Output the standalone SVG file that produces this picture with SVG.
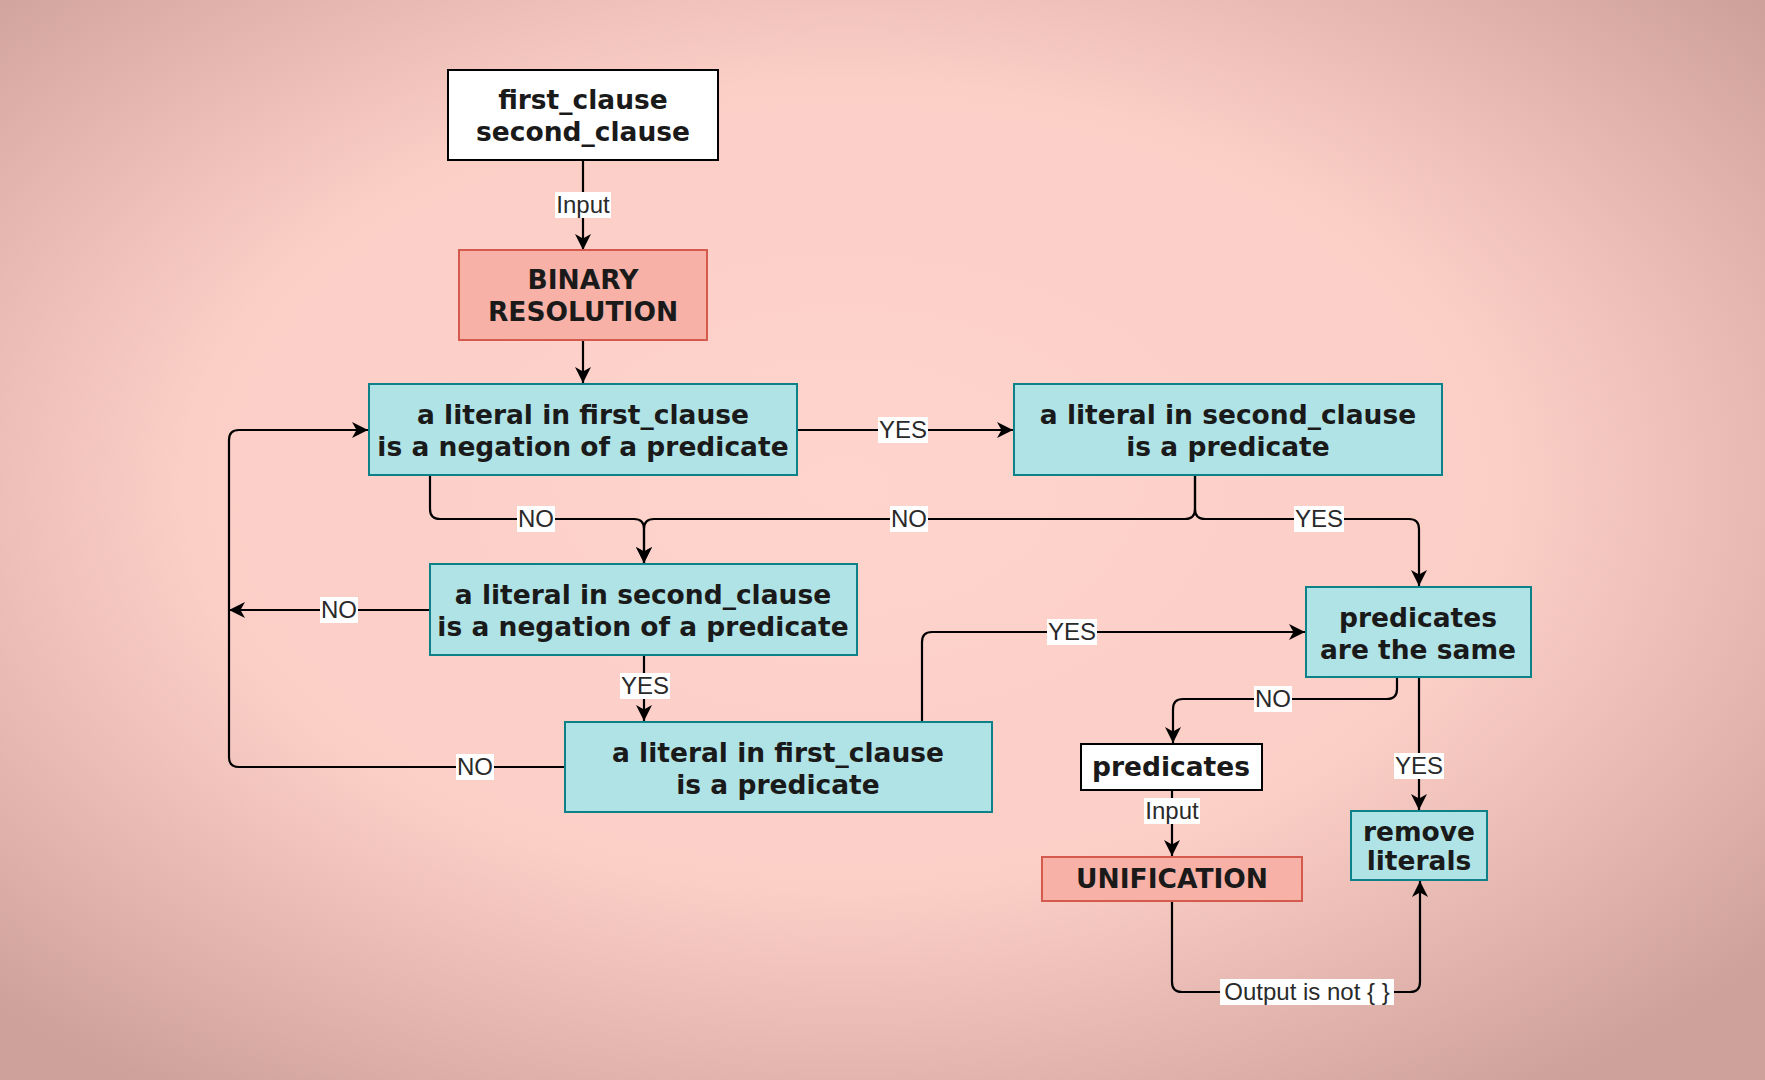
<svg xmlns="http://www.w3.org/2000/svg" width="1765" height="1080" viewBox="0 0 1765 1080">
<defs>
<radialGradient id="bg" cx="48%" cy="45%" r="68%">
<stop offset="0" stop-color="#fed4cc"/>
<stop offset="0.55" stop-color="#fbcec6"/>
<stop offset="1" stop-color="#cfa19b"/>
</radialGradient>
<marker id="arr" markerUnits="userSpaceOnUse" markerWidth="18" markerHeight="18" refX="16" refY="8" orient="auto">
<path d="M0,0 L16,8 L0,16 L4.5,8 Z" fill="#000"/>
</marker>
<style>
.cy{fill:#b0e3e6;stroke:#0e8088;stroke-width:2}
.rd{fill:#f7b1a6;stroke:#d35a4c;stroke-width:2}
.wh{fill:#ffffff;stroke:#000;stroke-width:2}
.nt{font-family:"DejaVu Sans",Verdana,sans-serif;font-weight:bold;font-size:26.5px;fill:#1a1a1a;text-anchor:middle}
.c{fill:none;stroke:#000;stroke-width:2.2;marker-end:url(#arr)}
.lb{fill:#fff}
.lt{font-family:"Liberation Sans",Arial,sans-serif;font-size:24px;fill:#2a2a2a;text-anchor:middle}
</style>
</defs>
<rect x="0" y="0" width="1765" height="1080" fill="url(#bg)"/>

<g id="connectors">
<path class="c" d="M583,160 V250"/>
<path class="c" d="M583,340 V383"/>
<path class="c" d="M797,430 H1013"/>
<path class="c" d="M430,475 V509 Q430,519 440,519 H634 Q644,519 644,529 V563"/>
<path class="c" d="M1195,475 V509 Q1195,519 1185,519 H654 Q644,519 644,529 V563"/>
<path class="c" d="M1195,475 V509 Q1195,519 1205,519 H1409 Q1419,519 1419,529 V586"/>
<path class="c" d="M430,610 H229"/>
<path class="c" d="M644,655 V721"/>
<path class="c" d="M565,767 H239 Q229,767 229,757 V440 Q229,430 239,430 H368"/>
<path class="c" d="M922,722 V642 Q922,632 932,632 H1305"/>
<path class="c" d="M1397,677 V689 Q1397,699 1387,699 H1183 Q1173,699 1173,709 V743"/>
<path class="c" d="M1419,677 V810"/>
<path class="c" d="M1172,790 V856"/>
<path class="c" d="M1172,901 V982 Q1172,992 1182,992 H1410 Q1420,992 1420,982 V881"/>
</g>

<g id="labels">
<rect class="lb" x="555" y="192" width="56" height="26"/><text class="lt" x="583" y="213">Input</text>
<rect class="lb" x="878" y="417" width="50" height="26"/><text class="lt" x="903" y="438">YES</text>
<rect class="lb" x="517" y="506" width="38" height="26"/><text class="lt" x="536" y="527">NO</text>
<rect class="lb" x="890" y="506" width="38" height="26"/><text class="lt" x="909" y="527">NO</text>
<rect class="lb" x="1294" y="506" width="50" height="26"/><text class="lt" x="1319" y="527">YES</text>
<rect class="lb" x="320" y="597" width="38" height="26"/><text class="lt" x="339" y="618">NO</text>
<rect class="lb" x="620" y="673" width="50" height="26"/><text class="lt" x="645" y="694">YES</text>
<rect class="lb" x="456" y="754" width="38" height="26"/><text class="lt" x="475" y="775">NO</text>
<rect class="lb" x="1047" y="619" width="50" height="26"/><text class="lt" x="1072" y="640">YES</text>
<rect class="lb" x="1254" y="686" width="38" height="26"/><text class="lt" x="1273" y="707">NO</text>
<rect class="lb" x="1394" y="753" width="50" height="26"/><text class="lt" x="1419" y="774">YES</text>
<rect class="lb" x="1144" y="798" width="56" height="26"/><text class="lt" x="1172" y="819">Input</text>
<rect class="lb" x="1220" y="979" width="174" height="26"/><text class="lt" x="1307" y="1000">Output is not { }</text>
</g>

<g id="n-clauses">
<rect class="wh" x="448" y="70" width="270" height="90"/>
<text class="nt" x="583" y="109">first_clause</text>
<text class="nt" x="583" y="141">second_clause</text>
</g>
<g id="n-binary">
<rect class="rd" x="459" y="250" width="248" height="90"/>
<text class="nt" x="583" y="289">BINARY</text>
<text class="nt" x="583" y="321">RESOLUTION</text>
</g>
<g id="n-q1">
<rect class="cy" x="369" y="384" width="428" height="91"/>
<text class="nt" x="583" y="424">a literal in first_clause</text>
<text class="nt" x="583" y="456">is a negation of a predicate</text>
</g>
<g id="n-q2">
<rect class="cy" x="1014" y="384" width="428" height="91"/>
<text class="nt" x="1228" y="424">a literal in second_clause</text>
<text class="nt" x="1228" y="456">is a predicate</text>
</g>
<g id="n-q3">
<rect class="cy" x="430" y="564" width="427" height="91"/>
<text class="nt" x="643" y="604">a literal in second_clause</text>
<text class="nt" x="643" y="636">is a negation of a predicate</text>
</g>
<g id="n-q4">
<rect class="cy" x="565" y="722" width="427" height="90"/>
<text class="nt" x="778" y="762">a literal in first_clause</text>
<text class="nt" x="778" y="794">is a predicate</text>
</g>
<g id="n-same">
<rect class="cy" x="1306" y="587" width="225" height="90"/>
<text class="nt" x="1418" y="627">predicates</text>
<text class="nt" x="1418" y="659">are the same</text>
</g>
<g id="n-predicates">
<rect class="wh" x="1081" y="744" width="181" height="46"/>
<text class="nt" x="1171" y="776">predicates</text>
</g>
<g id="n-unification">
<rect class="rd" x="1042" y="857" width="260" height="44"/>
<text class="nt" x="1172" y="888">UNIFICATION</text>
</g>
<g id="n-remove">
<rect class="cy" x="1351" y="811" width="136" height="69"/>
<text class="nt" x="1419" y="841">remove</text>
<text class="nt" x="1419" y="870">literals</text>
</g>
</svg>
